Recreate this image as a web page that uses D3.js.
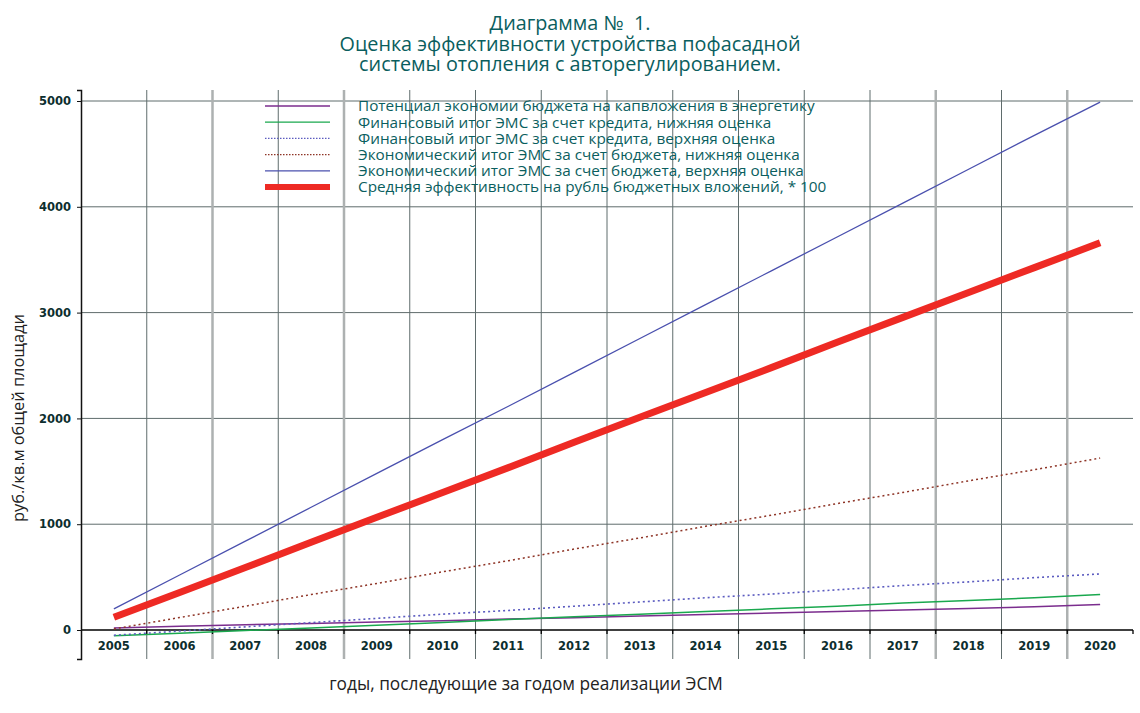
<!DOCTYPE html>
<html><head><meta charset="utf-8">
<script src="https://cdn.jsdelivr.net/npm/d3@7/dist/d3.min.js"></script>
<style>body{margin:0;background:#fff}svg{display:block}</style>
</head><body>
<svg id="c" width="1140" height="713"></svg>
<script>
const years = ["2005","2006","2007","2008","2009","2010","2011","2012","2013","2014","2015","2016","2017","2018","2019","2020"];
const yTicks = [0,1000,2000,3000,4000,5000];
const titleLines = ["Диаграмма №\u00A0 1.","Оценка эффективности устройства пофасадной","системы отопления с авторегулированием."];
const seriesNames = [
 "Потенциал экономии бюджета на капвложения в энергетику",
 "Финансовый итог ЭМС за счет кредита, нижняя оценка",
 "Финансовый итог ЭМС за счет кредита, верхняя оценка",
 "Экономический итог ЭМС за счет бюджета, нижняя оценка",
 "Экономический итог ЭМС за счет бюджета, верхняя оценка",
 "Средняя эффективность на рубль бюджетных вложений, * 100"
];
const potential   = [20,35,50,62,75,88,103,117,132,146,160,175,190,204,220,240];
const finLow      = [-55,-30,-5,20,45,70,100,125,150,175,200,225,255,280,305,335];
const finHigh     = [-50,-10,30,70,110,150,185,225,265,305,340,380,420,455,495,530];
const econLow     = [10,118,225,335,440,550,655,765,870,980,1085,1195,1300,1410,1515,1625];
const econHigh    = [200,520,840,1160,1480,1800,2115,2435,2755,3075,3395,3715,4035,4355,4675,4990];
const avgEff      = [120,355,590,830,1065,1300,1535,1775,2010,2245,2480,2720,2955,3190,3425,3660];
const seriesData = [potential, finLow, finHigh, econLow, econHigh, avgEff];

const styles = [
 {color:"#7b2d8e", w:1.5, dash:null},
 {color:"#1aa84e", w:1.5, dash:null},
 {color:"#5c5cc0", w:1.6, dash:"2,3"},
 {color:"#8e3426", w:1.5, dash:"2,3"},
 {color:"#4a50ae", w:1.3, dash:null},
 {color:"#ee2a24", w:7, dash:null}
];
const lightGrid = new Set(["2007","2009","2018","2020"]);

const svg = d3.select("#c");
const x = d3.scaleBand().domain(years).range([81,1133]);
const y = d3.scaleLinear().domain([-274,5104]).range([659,90]);
const cx = d => x(d) + x.bandwidth()/2;

// title (one text element, three lines)
svg.append("text").attr("text-anchor","middle")
  .attr("font-family","'Open Sans',sans-serif").attr("font-size",19.8)
  .attr("fill","#0a5e5e")
  .selectAll("tspan").data(titleLines).join("tspan")
  .attr("x",570).attr("y",(d,i)=>30+i*20.5).text(d=>d);

// horizontal grid
svg.append("g").selectAll("line").data(yTicks.filter(t=>t>0)).join("line")
  .attr("x1",81).attr("x2",1133).attr("y1",d=>y(d)).attr("y2",d=>y(d))
  .attr("stroke","#5f6c6c").attr("stroke-width",1);

// vertical grid at band boundaries
svg.append("g").selectAll("line").data(years.slice(1)).join("line")
  .attr("x1",d=>x(d)).attr("x2",d=>x(d)).attr("y1",90).attr("y2",659)
  .attr("stroke",d=>lightGrid.has(d)?"#adb1b1":"#5f6c6c")
  .attr("stroke-width",d=>lightGrid.has(d)?2.5:1);

// x axis at 0
const xAxis = svg.append("g").attr("transform",`translate(0,${y(0)})`);
xAxis.append("line").attr("x1",81).attr("x2",1133).attr("stroke","#000").attr("stroke-width",1.5);
xAxis.selectAll("line.t").data(years.slice(1).map(d=>x(d)).concat([1133])).join("line")
  .attr("class","t").attr("x1",d=>d).attr("x2",d=>d).attr("y1",0).attr("y2",4)
  .attr("stroke","#000").attr("stroke-width",1.3);
xAxis.selectAll("text").data(years).join("text")
  .attr("x",d=>cx(d)).attr("y",20).attr("text-anchor","middle")
  .attr("font-family","'DejaVu Sans',Verdana,sans-serif").attr("font-weight","bold")
  .attr("font-size",11.5).attr("fill","#0d2e2e").text(d=>d);

// y axis
const yAxis = d3.axisLeft(y).tickValues(yTicks).tickSize(4).tickSizeOuter(4).tickPadding(6).tickFormat(d3.format("d"));
const ya = svg.append("g").attr("transform","translate(81,0)").call(yAxis);
ya.select(".domain").attr("stroke","#111").attr("stroke-width",1.5);
ya.selectAll(".tick line").attr("stroke","#111");
ya.selectAll(".tick text").attr("font-family","'DejaVu Sans',Verdana,sans-serif")
  .attr("font-weight","bold").attr("font-size",11.5).attr("fill","#0d2e2e");

// series lines
const line = d3.line().x((d,i)=>cx(years[i])).y(d=>y(d));
svg.append("g").selectAll("path").data(seriesData).join("path")
  .attr("d",d=>line(d)).attr("fill","none")
  .attr("stroke",(d,i)=>styles[i].color).attr("stroke-width",(d,i)=>styles[i].w)
  .attr("stroke-dasharray",(d,i)=>styles[i].dash);

// legend
const legendY = i => 106 + i*16.2;
svg.append("g").selectAll("line").data(seriesNames).join("line")
  .attr("x1",265).attr("x2",330).attr("y1",(d,i)=>legendY(i)).attr("y2",(d,i)=>legendY(i))
  .attr("stroke",(d,i)=>styles[i].color).attr("stroke-width",(d,i)=>i===5?6:1.3)
  .attr("stroke-dasharray",(d,i)=>styles[i].dash?"1.5,1.5":null);
svg.append("text")
  .attr("font-family","'Open Sans',sans-serif").attr("font-size",15.3).attr("fill","#0a5e5e")
  .selectAll("tspan").data(seriesNames).join("tspan")
  .attr("x",358).attr("y",(d,i)=>legendY(i)+5.3).text(d=>d);

// axis titles
svg.append("text").attr("transform","translate(24,418) rotate(-90)")
  .attr("text-anchor","middle").attr("font-family","'Open Sans',sans-serif")
  .attr("font-size",16.4).attr("fill","#222").text("руб./кв.м общей площади");
svg.append("text").attr("x",526).attr("y",690).attr("text-anchor","middle")
  .attr("font-family","'Open Sans',sans-serif").attr("font-size",17.3)
  .attr("fill","#222").text("годы, последующие за годом реализации ЭСМ");
</script>
</body></html>
